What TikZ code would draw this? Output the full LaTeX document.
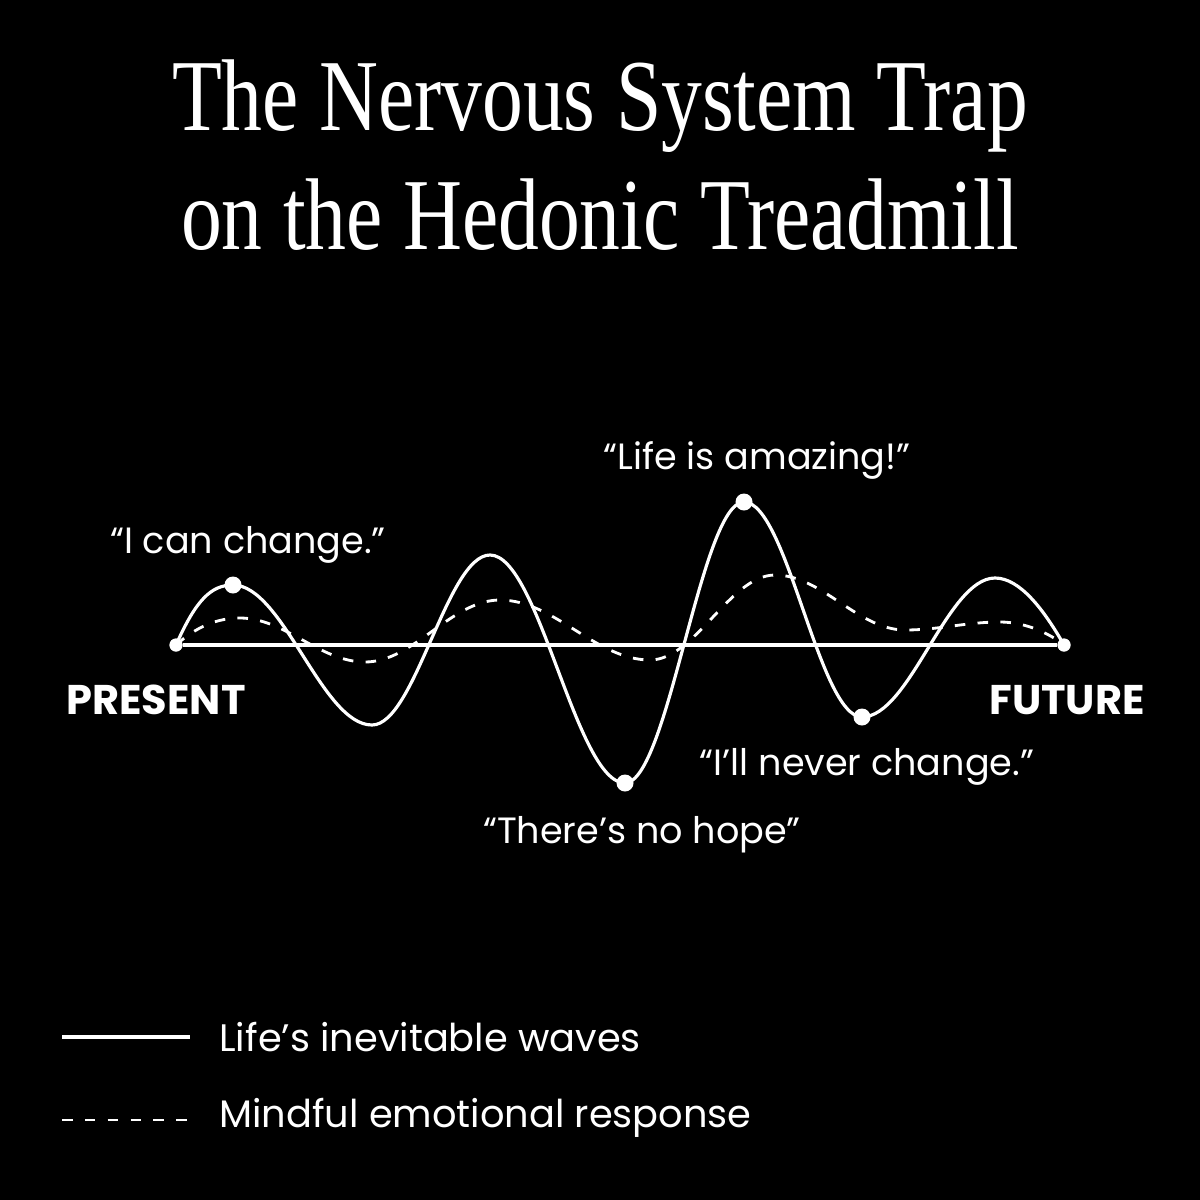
\documentclass[tikz,border=0pt]{standalone}
\usepackage{fontspec}
\setmainfont{Poppins}
\newfontfamily\titlefont{Liberation Serif}
\begin{document}
\begin{tikzpicture}[x=0.01cm,y=-0.01cm,
    every node/.style={align=center,text=white},
    wave line/.style={draw=white, line width=0.9pt},
    mindful line/.style={draw=white, line width=0.8pt, dash pattern=on 3pt off 3.5pt},
    peak dot/.style={circle, fill=white, inner sep=0pt, minimum size=0.17cm},
    end dot/.style={circle, fill=white, inner sep=0pt, minimum size=0.13cm},
    quote/.style={font=\fontsize{10.4pt}{12pt}\selectfont},
    axis label/.style={font=\fontsize{11.8pt}{14pt}\selectfont\bfseries},
    ]
\fill[black] (0,0) rectangle (1200,1200);
\node[font=\titlefont\fontsize{29pt}{31pt}\selectfont] (title) at (600,168)
  {\scalebox{0.8}[1]{\begin{tabular}{c}The Nervous System Trap\\[3pt]on the Hedonic Treadmill\end{tabular}}};
% points of the waves
\node[end dot] (start) at (176,645) {};
\node[end dot] (stop) at (1064,645) {};
\coordinate (t1) at (372,725);
\coordinate (p2) at (490,555);
\coordinate (p4) at (995,578);
\node[peak dot] (p1) at (233,585) {};
\node[peak dot] (t2) at (625,783) {};
\node[peak dot] (p3) at (744,502) {};
\node[peak dot] (t3) at (862,717) {};
\draw[wave line] (start) -- (stop);
\draw[wave line] (start.center) .. controls +(20,-45) and +(-22,0) .. (p1.center)
  .. controls +(50,0) and +(-50,0) .. (t1)
  .. controls +(43,0) and +(-43,0) .. (p2)
  .. controls +(49,0) and +(-49,0) .. (t2.center)
  .. controls +(43,0) and +(-43,0) .. (p3.center)
  .. controls +(43,0) and +(-43,0) .. (t3.center)
  .. controls +(48,0) and +(-48,0) .. (p4)
  .. controls +(25,0) and +(-20,-35) .. (stop.center);
% mindful response
\coordinate (d1) at (240,618);
\coordinate (d2) at (365,662);
\coordinate (d3) at (500,600);
\coordinate (d4) at (650,660);
\coordinate (d5) at (775,575);
\coordinate (d6) at (905,630);
\coordinate (d7) at (1000,622);
\draw[mindful line] (start.center) .. controls +(20,-18) and +(-23,0) .. (d1)
  .. controls +(45,0) and +(-45,0) .. (d2)
  .. controls +(49,0) and +(-49,0) .. (d3)
  .. controls +(54,0) and +(-54,0) .. (d4)
  .. controls +(45,0) and +(-45,0) .. (d5)
  .. controls +(47,0) and +(-47,0) .. (d6)
  .. controls +(34,0) and +(-34,0) .. (d7)
  .. controls +(25,0) and +(-15,-12) .. (stop.center);
\fill[white] (start) circle (6.5);
\fill[white] (stop) circle (6.5);
% labels
\node[quote] (qp1) at (248,545) {“I can change.”};
\node[quote] (qp3) at (757,460) {“Life is amazing!”};
\node[quote] (qt2) at (642,835) {“There’s no hope”};
\node[quote] (qt3) at (867,767) {“I’ll never change.”};
\node[axis label] (present) at (156,700) {PRESENT};
\node[axis label] (future) at (1067,700) {FUTURE};
% legend
\coordinate (ls1) at (62,1037);
\coordinate (le1) at (190,1037);
\coordinate (ls2) at (62,1120);
\coordinate (le2) at (190,1120);
\draw[wave line] (ls1) -- (le1);
\draw[mindful line] (ls2) -- (le2);
\node[quote, anchor=west, font=\fontsize{10.9pt}{12pt}\selectfont] (leg1) at (207,1037) {Life’s inevitable waves};
\node[quote, anchor=west, font=\fontsize{10.9pt}{12pt}\selectfont] (leg2) at (207,1118) {Mindful emotional response};
\end{tikzpicture}
\end{document}
